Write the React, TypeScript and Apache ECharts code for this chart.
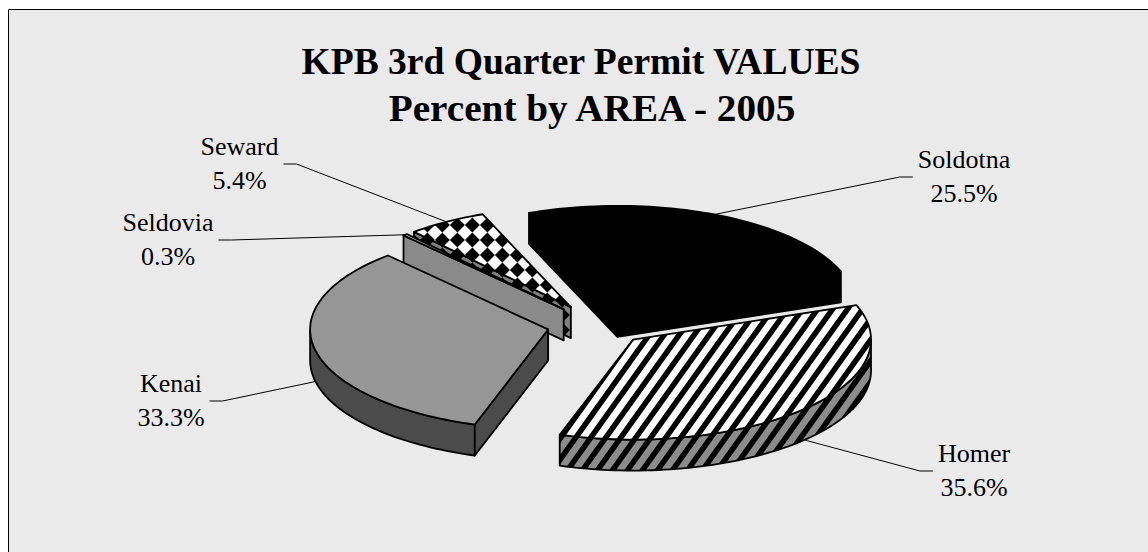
import { useEffect, useRef } from 'react';
import * as echarts from 'echarts';

// ---- data ----
const AREAS = ['Soldotna', 'Homer', 'Kenai', 'Seldovia', 'Seward'];
const PERCENTS = [25.5, 35.6, 33.3, 0.3, 5.4];
const TITLE_LINES = ['KPB 3rd Quarter Permit VALUES', 'Percent by AREA - 2005'];

// ---- layout / style ----
const FONT = '"Liberation Serif", "Times New Roman", serif';
const FIRST_SLICE_ANGLE = -21.8; // degrees clockwise from 12 o'clock
const PIE_CX = 597;
const PIE_CY = 325;
const PIE_RX = 238;
const PIE_RY = 100;
const PIE_DEPTH = 31;
const PIE_EXPLODE = 50;
const LABEL_ANCHORS: [number, number][] = [
  [964, 168],
  [974, 462],
  [171, 392],
  [168, 231],
  [239.5, 155],
];
const LABEL_SIZE = 26;
const LABEL_LINE_H = 34.5;
const TITLE_SIZE = 37;
const TITLE_LAYOUT = [
  { x: 581, baseline: 74.3, scaleX: 1.015 },
  { x: 592, baseline: 121, scaleX: 1.06 },
];

type RGB = [number, number, number];

function makeTile(w: number, h: number, fn: (x: number, y: number) => number, light: RGB, dark: RGB) {
  const c = document.createElement('canvas');
  c.width = w;
  c.height = h;
  const ctx = c.getContext('2d')!;
  const img = ctx.createImageData(w, h);
  const S = 4;
  for (let y = 0; y < h; y++) {
    for (let x = 0; x < w; x++) {
      let s = 0;
      for (let sy = 0; sy < S; sy++)
        for (let sx = 0; sx < S; sx++) s += fn(x + (sx + 0.5) / S, y + (sy + 0.5) / S);
      const t = s / (S * S);
      const k = (y * w + x) * 4;
      img.data[k] = Math.round(light[0] * (1 - t) + dark[0] * t);
      img.data[k + 1] = Math.round(light[1] * (1 - t) + dark[1] * t);
      img.data[k + 2] = Math.round(light[2] * (1 - t) + dark[2] * t);
      img.data[k + 3] = 255;
    }
  }
  ctx.putImageData(img, 0, 0);
  return { image: c.toDataURL(), repeat: 'repeat', imageWidth: w, imageHeight: h };
}

function stripeFn(w: number, h: number, frac: number) {
  return (x: number, y: number) => {
    const v = x / w + y / h;
    const f = v - Math.floor(v);
    return f < frac ? 1 : 0;
  };
}
function diamondFn(s: number) {
  return (x: number, y: number) => {
    const u = Math.floor((x + y) / s);
    const v = Math.floor((x - y) / s);
    return ((u + v) % 2 + 2) % 2 === 0 ? 1 : 0;
  };
}

export default function App() {
  const ref = useRef<HTMLDivElement>(null);
  useEffect(() => {
    const chart = echarts.init(ref.current!, null, { renderer: 'svg' });

    const homerTop = makeTile(15, 21, stripeFn(15, 21, 0.45), [255, 255, 255], [0, 0, 0]);
    const homerSide = makeTile(15, 21, stripeFn(15, 21, 0.45), [140, 140, 140], [0, 0, 0]);
    const sewardTop = makeTile(30, 30, diamondFn(15), [255, 255, 255], [0, 0, 0]);
    const sewardSide = makeTile(30, 30, diamondFn(15), [128, 128, 128], [0, 0, 0]);

    const SLICE_FILLS: any[] = [
      { top: '#000000', side: '#000000' },
      { top: homerTop, side: homerSide },
      { top: '#969696', side: '#4b4b4b' },
      { top: '#ffffff', side: '#8a8a8a' },
      { top: sewardTop, side: sewardSide },
    ];

    const total = PERCENTS.reduce((a, b) => a + b, 0);
    const starts: number[] = [];
    let acc = 0;
    PERCENTS.forEach((v) => {
      starts.push(FIRST_SLICE_ANGLE + (360 * acc) / total);
      acc += v;
    });
    const rad = (d: number) => (d * Math.PI) / 180;
    const mids = PERCENTS.map((v, i) => starts[i] + (180 * v) / total);
    const order = mids
      .map((m, i) => ({ i, c: Math.cos(rad(m)) }))
      .sort((p, q) => q.c - p.c)
      .map((p) => p.i);
    const rank: number[] = [];
    order.forEach((idx, r) => (rank[idx] = r));

    const mctx = document.createElement('canvas').getContext('2d')!;
    mctx.font = `${LABEL_SIZE}px ${FONT}`;

    const renderItem = (params: any, api: any) => {
      const i = params.dataIndex;
      const v = api.value(0) as number;
      const a = starts[i];
      const b = a + (360 * v) / total;
      const m = (a + b) / 2;
      const ox = PIE_EXPLODE * Math.sin(rad(m));
      const oy = -PIE_EXPLODE * (PIE_RY / PIE_RX) * Math.cos(rad(m));
      const P = (t: number, z: number) => [
        PIE_CX + ox + PIE_RX * Math.sin(rad(t)),
        PIE_CY + oy - PIE_RY * Math.cos(rad(t)) + z,
      ];
      const arc = (t1: number, t2: number, z: number) => {
        const n = Math.max(2, Math.ceil(Math.abs(t2 - t1) / 1.5));
        const pts: number[][] = [];
        for (let k = 0; k <= n; k++) pts.push(P(t1 + ((t2 - t1) * k) / n, z));
        return pts;
      };
      const apex0 = [PIE_CX + ox, PIE_CY + oy];
      const apexH = [PIE_CX + ox, PIE_CY + oy + PIE_DEPTH];
      const fills = SLICE_FILLS[i];
      const base = rank[i] * 10;
      const stroke = { stroke: '#000', lineWidth: 1.8, lineJoin: 'round' };
      const children: any[] = [];

      for (let k = -1; k <= 1; k++) {
        const lo = Math.max(a, 90 + 360 * k);
        const hi = Math.min(b, 270 + 360 * k);
        if (hi > lo) {
          const top = arc(lo, hi, 0);
          const bot = arc(lo, hi, PIE_DEPTH).reverse();
          children.push({
            type: 'polygon',
            shape: { points: top.concat(bot) },
            style: { fill: fills.side, ...stroke },
            z2: base + 1,
          });
        }
      }
      if (Math.sin(rad(a)) < 0) {
        children.push({
          type: 'polygon',
          shape: { points: [apex0, P(a, 0), P(a, PIE_DEPTH), apexH] },
          style: { fill: fills.side, ...stroke },
          z2: base + 2,
        });
      }
      if (Math.sin(rad(b)) > 0) {
        children.push({
          type: 'polygon',
          shape: { points: [apex0, P(b, 0), P(b, PIE_DEPTH), apexH] },
          style: { fill: fills.side, ...stroke },
          z2: base + 2,
        });
      }
      children.push({
        type: 'polygon',
        shape: { points: [apex0].concat(arc(a, b, 0)) },
        style: { fill: fills.top, ...stroke },
        z2: base + 3,
      });

      const name = AREAS[i];
      const pct = v.toFixed(1) + '%';
      const [lx, ly] = LABEL_ANCHORS[i];
      const tw = Math.max(mctx.measureText(name).width, mctx.measureText(pct).width);
      const rightOfPie = lx > PIE_CX;
      const endX = rightOfPie ? lx - tw / 2 - 5 : lx + tw / 2 + 5;
      const endY = ly + 9;
      const elbowX = rightOfPie ? endX - 13 : endX + 13;
      const startPt = P(m, Math.cos(rad(m)) > 0 ? 0 : PIE_DEPTH);
      children.push({
        type: 'polyline',
        shape: { points: [startPt, [elbowX, endY], [endX, endY]] },
        style: { stroke: '#000', lineWidth: 1, fill: null },
        z2: 100,
      });
      children.push({
        type: 'text',
        x: lx,
        y: ly - 0.3375 * LABEL_SIZE - LABEL_LINE_H / 2,
        style: {
          text: name + '\n' + pct,
          font: `${LABEL_SIZE}px ${FONT}`,
          fill: '#000',
          align: 'center',
          verticalAlign: 'top',
          lineHeight: LABEL_LINE_H,
        },
        z2: 101,
      });
      return { type: 'group', children };
    };

    const titleTexts = TITLE_LINES.map((line, k) => ({
      type: 'text',
      z: 10,
      x: TITLE_LAYOUT[k].x,
      y: TITLE_LAYOUT[k].baseline - 0.3375 * TITLE_SIZE,
      scaleX: TITLE_LAYOUT[k].scaleX,
      style: {
        text: line,
        font: `bold ${TITLE_SIZE}px ${FONT}`,
        fill: '#000',
        align: 'center',
        verticalAlign: 'middle',
      },
    }));

    const option: any = {
      animation: false,
      backgroundColor: '#ffffff',
      graphic: [
        {
          type: 'rect',
          z: -10,
          shape: { x: 8.5, y: 9.5, width: 1300, height: 700 },
          style: { fill: '#eaeaea', stroke: '#000', lineWidth: 1 },
        },
        ...titleTexts,
      ],
      series: [
        {
          type: 'custom',
          coordinateSystem: 'none',
          silent: true,
          renderItem,
          data: PERCENTS.map((v, i) => ({ name: AREAS[i], value: v })),
        },
      ],
    };
    chart.setOption(option);
    return () => chart.dispose();
  }, []);
  return (
    <div
      ref={ref}
      style={{ position: 'absolute', left: 0, top: 0, width: 1148, height: 552 }}
    />
  );
}
